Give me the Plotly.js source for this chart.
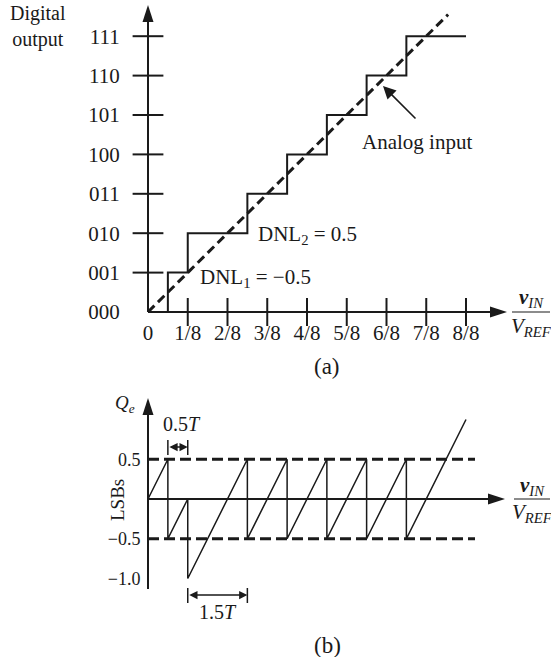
<!DOCTYPE html>
<html>
<head>
<meta charset="utf-8">
<script src="https://cdn.plot.ly/plotly-3.0.1.min.js"></script>
<style>html,body{margin:0;padding:0;background:#fff;}#chart{width:551px;height:657px;}</style>
</head>
<body>
<div id="chart"></div>
<script>
// ---------- data ----------
const xTickVals = [0, 1, 2, 3, 4, 5, 6, 7, 8];
const xTickText = ['0', '1/8', '2/8', '3/8', '4/8', '5/8', '6/8', '7/8', '8/8'];
const codeVals = [0, 1, 2, 3, 4, 5, 6, 7];
const codeText = ['000', '001', '010', '011', '100', '101', '110', '111'];
// staircase (transition points in LSB units of vIN, output code)
const stepX = [0, 0.5, 1, 2.5, 3.5, 4.5, 5.5, 6.5, 8];
const stepCode = [0, 1, 2, 3, 4, 5, 6, 7, 7];
// ideal analog input line
const analogX = [0, 7.55];
const analogY = [0, 7.55];
// quantization error (LSBs)
const qeX = [0, 0.5, 0.5, 1, 1, 2.5, 2.5, 3.5, 3.5, 4.5, 4.5, 5.5, 5.5, 6.5, 6.5, 8];
const qeVal = [0, 0.5, -0.5, 0, -1.0, 0.5, -0.5, 0.5, -0.5, 0.5, -0.5, 0.5, -0.5, 0.5, -0.5, 1.0];
const qeBounds = [0.5, -0.5];
const qeTickVals = [0.5, -0.5, -1.0];
const qeTickText = ['0.5', '\u22120.5', '\u22121.0'];
// dimension markers
const dimStart = [0.5, 1.0];
const dimEnd = [1.0, 2.5];
const dimLabel = ['0.5<i>T</i>', '1.5<i>T</i>'];

// ---------- layout helpers (pixel geometry) ----------
const W = 551, H = 657;
const X0 = 148, XS = 39.75;           // x origin px, px per LSB
const Y0a = 312, YSa = 39.4;          // top plot origin px, px per code
const Y0b = 499, YSb = 79.5;          // bottom plot origin px, px per LSB error
const split = 380;                    // px row separating panels
const fx = p => (p - X0) / XS;
const fya = p => (Y0a - p) / YSa;
const fyb = p => (Y0b - p) / YSb;
const PX = p => p / W;
const PY = p => 1 - p / H;
const serif = 'Liberation Serif, Times New Roman, serif';
const black = '#1a1a1a';

const traces = [
  { x: stepX, y: stepCode, xaxis: 'x', yaxis: 'y', mode: 'lines', line: { shape: 'hv', color: black, width: 2 }, hoverinfo: 'skip' },
  { x: analogX, y: analogY, xaxis: 'x', yaxis: 'y', mode: 'lines', line: { color: black, width: 3, dash: '9px,5px' }, hoverinfo: 'skip' },
  { x: xTickVals.slice(1), y: xTickVals.slice(1).map(() => 0), xaxis: 'x', yaxis: 'y', mode: 'markers', cliponaxis: false,
    marker: { symbol: 'line-ns', size: 20, line: { width: 2, color: black } }, hoverinfo: 'skip' },
  { x: codeVals.slice(1).map(() => 0), y: codeVals.slice(1), xaxis: 'x', yaxis: 'y', mode: 'markers', cliponaxis: false,
    marker: { symbol: 'line-ew', size: 22, line: { width: 2, color: black } }, hoverinfo: 'skip' },
  { x: qeX, y: qeVal, xaxis: 'x2', yaxis: 'y2', mode: 'lines', line: { color: black, width: 1.5 }, hoverinfo: 'skip' }
];
qeBounds.forEach(b => traces.push({ x: [0, fx(475)], y: [b, b], xaxis: 'x2', yaxis: 'y2', mode: 'lines',
  line: { color: black, width: 3, dash: '11px,5px' }, hoverinfo: 'skip' }));

const shapes = [];
const line = (xref, yref, x0, y0, x1, y1, w) => shapes.push({ type: 'line', xref, yref, x0, y0, x1, y1, line: { color: black, width: w } });
// axis lines
line('x', 'y', 0, 0, fx(500), 0, 2);
line('x', 'y', 0, 0, 0, fya(12), 2);
line('x2', 'y2', 0, 0, fx(498), 0, 2);
line('x2', 'y2', 0, fyb(589), 0, fyb(405), 2);
// arrowheads (pixel sized)
const head = (xref, yref, x, y, path) => shapes.push({ type: 'path', xref, yref, xsizemode: 'pixel', ysizemode: 'pixel',
  xanchor: x, yanchor: y, path, fillcolor: black, line: { width: 0 } });
const right = 'M0,0 L-17,5.5 L-17,-5.5 Z';
const up = 'M0,0 L-5.5,-17 L5.5,-17 Z';
head('x', 'y', fx(507), 0, right);
head('x', 'y', 0, fya(5), up);
head('x2', 'y2', fx(505), 0, right);
head('x2', 'y2', 0, fyb(398), up);
// fraction bars
shapes.push({ type: 'line', xref: 'paper', yref: 'paper', x0: PX(512), x1: PX(550), y0: PY(312), y1: PY(312), line: { color: black, width: 1.2 } });
shapes.push({ type: 'line', xref: 'paper', yref: 'paper', x0: PX(514), x1: PX(550), y0: PY(499), y1: PY(499), line: { color: black, width: 1.2 } });
// dimension end bars
line('x2', 'y2', dimStart[0], fyb(440), dimStart[0], fyb(455), 1.5);
line('x2', 'y2', dimEnd[0], fyb(440), dimEnd[0], fyb(455), 1.5);
line('x2', 'y2', dimStart[1], fyb(588), dimStart[1], fyb(603), 1.5);
line('x2', 'y2', dimEnd[1], fyb(588), dimEnd[1], fyb(603), 1.5);

const ann = [];
const F = (s) => ({ family: serif, size: s, color: black });
const txt = (o) => ann.push(Object.assign({ showarrow: false, xanchor: 'center', yanchor: 'middle', font: F(21) }, o));
txt({ xref: 'paper', yref: 'paper', x: PX(38), y: PY(27), text: 'Digital<br>output', align: 'center', font: F(20) });
txt({ xref: 'paper', yref: 'paper', x: PX(327), y: PY(366), text: '(a)', font: F(23) });
txt({ xref: 'paper', yref: 'paper', x: PX(327), y: PY(645), text: '(b)', font: F(23) });
txt({ xref: 'paper', yref: 'paper', x: PX(531), y: PY(298), text: '<b><i>v</i></b><sub><i>IN</i></sub>' });
txt({ xref: 'paper', yref: 'paper', x: PX(531), y: PY(327), text: '<i>V</i><sub><i>REF</i></sub>' });
txt({ xref: 'paper', yref: 'paper', x: PX(532), y: PY(486), text: '<b><i>v</i></b><sub><i>IN</i></sub>' });
txt({ xref: 'paper', yref: 'paper', x: PX(532), y: PY(513), text: '<i>V</i><sub><i>REF</i></sub>' });
txt({ xref: 'x', yref: 'y', x: fx(417), y: fya(142), text: 'Analog input' });
txt({ xref: 'x', yref: 'y', x: fx(256), y: fya(235), xanchor: 'left', text: 'DNL<sub>2</sub> = 0.5' });
txt({ xref: 'x', yref: 'y', x: fx(198), y: fya(278), xanchor: 'left', text: 'DNL<sub>1</sub> = \u22120.5' });
txt({ xref: 'x2', yref: 'y2', x: fx(125), y: fyb(404), text: '<i>Q</i><sub><i>e</i></sub>', font: F(19) });
txt({ xref: 'x2', yref: 'y2', x: fx(117), y: fyb(500), text: 'LSBs', textangle: -90, font: F(19) });
txt({ xref: 'x2', yref: 'y2', x: fx(182), y: fyb(424), text: dimLabel[0], font: F(20) });
txt({ xref: 'x2', yref: 'y2', x: (dimStart[1] + dimEnd[1]) / 2, y: fyb(612), text: dimLabel[1], font: F(20) });
// arrows
ann.push({ xref: 'x', yref: 'y', x: fx(383), y: fya(86), ax: 34, ay: 34, text: '', showarrow: true,
  arrowhead: 2, arrowsize: 1.6, arrowwidth: 1.6, arrowcolor: black });
[0, 1].forEach(i => {
  const yy = i === 0 ? fyb(447) : fyb(595);
  ann.push({ xref: 'x2', yref: 'y2', axref: 'x2', ayref: 'y2', x: dimEnd[i], y: yy, ax: dimStart[i], ay: yy, text: '',
    showarrow: true, arrowside: 'end+start', arrowhead: 2, arrowsize: 1.1, arrowwidth: 1.5, arrowcolor: black });
});

const layout = {
  width: W, height: H,
  margin: { l: 0, r: 0, t: 0, b: 0, pad: 0 },
  paper_bgcolor: '#fff', plot_bgcolor: '#fff',
  showlegend: false,
  xaxis: { domain: [0, 1], range: [fx(0), fx(W)], anchor: 'free', position: PY(Y0a), showgrid: false, zeroline: false, showline: false,
    tickmode: 'array', tickvals: xTickVals, ticktext: xTickText, ticks: 'outside', ticklen: 2, tickcolor: 'rgba(0,0,0,0)', tickfont: F(21) },
  yaxis: { domain: [PY(split), 1], range: [fya(split), fya(0)], anchor: 'free', position: PX(X0), showgrid: false, zeroline: false, showline: false,
    tickmode: 'array', tickvals: codeVals, ticktext: codeText, ticks: 'outside', ticklen: 24, tickcolor: 'rgba(0,0,0,0)', tickfont: F(21) },
  xaxis2: { domain: [0, 1], range: [fx(0), fx(W)], anchor: 'free', position: PY(Y0b), showgrid: false, zeroline: false, showline: false,
    showticklabels: false, ticks: '' },
  yaxis2: { domain: [0, PY(split)], range: [fyb(H), fyb(split)], anchor: 'free', position: PX(X0), showgrid: false, zeroline: false, showline: false,
    tickmode: 'array', tickvals: qeTickVals, ticktext: qeTickText, ticks: 'outside', ticklen: 4, tickcolor: 'rgba(0,0,0,0)',
    tickfont: F(18) },
  shapes: shapes,
  annotations: ann
};
Plotly.newPlot('chart', traces, layout, { displayModeBar: false, staticPlot: true });
</script>
</body>
</html>
